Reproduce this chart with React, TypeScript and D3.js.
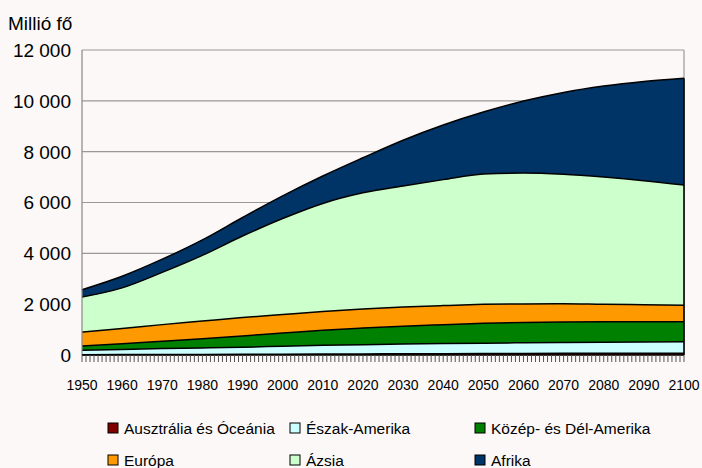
import React from "react";
import * as d3 from "d3";

const width = 702;
const height = 468;
const margin = { top: 50, right: 18, bottom: 113, left: 82 };

// népesség, millió fő
const years = [1950, 1960, 1970, 1980, 1990, 2000, 2010, 2020, 2030, 2040, 2050, 2060, 2070, 2080, 2090, 2100];
const ausztralia = [13, 16, 20, 23, 27, 31, 37, 42, 47, 52, 57, 61, 64, 67, 70, 72];
const eszakAmerika = [172, 204, 231, 254, 280, 313, 343, 365, 383, 397, 410, 420, 430, 438, 444, 450];
const delAmerika = [168, 220, 287, 362, 443, 522, 597, 654, 706, 745, 780, 800, 805, 800, 795, 790];
const europa = [549, 605, 657, 694, 721, 726, 736, 745, 750, 750, 745, 730, 720, 690, 670, 650];
const azsia = [1378, 1595, 2055, 2587, 3209, 3778, 4250, 4574, 4764, 4956, 5128, 5149, 5091, 5005, 4881, 4726];
const afrika = [290, 460, 520, 610, 730, 890, 1080, 1380, 1800, 2150, 2440, 2830, 3220, 3580, 3900, 4200];

const series = [
  { key: "aus", name: "Ausztrália és Óceánia", values: ausztralia, color: "#800000" },
  { key: "na", name: "Észak-Amerika", values: eszakAmerika, color: "#CCFFFF" },
  { key: "la", name: "Közép- és Dél-Amerika", values: delAmerika, color: "#008000" },
  { key: "eu", name: "Európa", values: europa, color: "#FF9900" },
  { key: "as", name: "Ázsia", values: azsia, color: "#CCFFCC" },
  { key: "af", name: "Afrika", values: afrika, color: "#003366" },
];

const yTicks = [0, 2000, 4000, 6000, 8000, 10000, 12000];
const xLabels = d3.range(1950, 2101, 10);

export default function App() {
  const x = d3.scaleLinear().domain([1950, 2100]).range([margin.left, width - margin.right]);
  const y = d3.scaleLinear().domain([0, 12000]).range([height - margin.bottom, margin.top]);

  const table = years.map((yr, i) => {
    const row: any = { year: yr };
    series.forEach(s => (row[s.key] = s.values[i]));
    return row;
  });
  const stacked = d3.stack().keys(series.map(s => s.key))(table);

  const area = d3.area<any>()
    .curve(d3.curveMonotoneX)
    .x(d => x(d.data.year))
    .y0(d => y(d[0]))
    .y1(d => y(d[1]));
  const line = d3.line<any>()
    .curve(d3.curveMonotoneX)
    .x(d => x(d.data.year))
    .y(d => y(d[1]));

  const fmt = (v: number) => d3.format(",")(v).replace(/,/g, " ");
  const x0 = x(1950), x1 = x(2100), yb = y(0);
  const total = stacked[stacked.length - 1];

  const legendCols = [108, 290, 475];
  const legendRows = [428, 460];

  return (
    <svg width={width} height={height} style={{ position: "absolute", left: 0, top: 0 }}
      fontFamily="'Liberation Sans', Arial, sans-serif">
      <rect width={width} height={height} fill="#FBF8F7" />
      <text x={8} y={30} fontSize={19}>Millió fő</text>

      {yTicks.map(t => (
        <g key={t}>
          <line x1={x0} x2={x1} y1={y(t)} y2={y(t)} stroke="#999" strokeWidth={1.2} />
          <text x={71} y={y(t)} dy="0.36em" textAnchor="end" fontSize={19}>{fmt(t)}</text>
        </g>
      ))}
      <line x1={x1} x2={x1} y1={y(12000)} y2={yb} stroke="#999" strokeWidth={1.2} />

      {stacked.map((s, i) => (
        <path key={s.key} d={area(s) || ""} fill={series[i].color} />
      ))}
      {stacked.map(s => (
        <path key={s.key} d={line(s) || ""} fill="none" stroke="#000" strokeWidth={1.5} />
      ))}
      <line x1={x1} x2={x1} y1={y(total[total.length - 1][1])} y2={yb} stroke="#000" strokeWidth={1.6} />
      <line x1={x0} x2={x0} y1={y(12000)} y2={yb} stroke="#888" strokeWidth={1.2} />
      <line x1={x0} x2={x1} y1={yb} y2={yb} stroke="#000" strokeWidth={1.4} />

      {d3.range(1950, 2101).map(yr => (
        <line key={yr} x1={x(yr)} x2={x(yr)} y1={yb} y2={yb + 7} stroke="#555" strokeWidth={1} />
      ))}
      {xLabels.map(yr => (
        <text key={yr} x={x(yr)} y={390} textAnchor="middle" fontSize={14}>{yr}</text>
      ))}

      {series.map((s, i) => {
        const lx = legendCols[i % 3];
        const ly = legendRows[Math.floor(i / 3)];
        return (
          <g key={s.key}>
            <rect x={lx} y={ly - 5} width={10} height={10} fill={s.color} stroke="#000" strokeWidth={1} />
            <text x={lx + 16} y={ly} dy="0.36em" fontSize={15.5}>{s.name}</text>
          </g>
        );
      })}
    </svg>
  );
}
